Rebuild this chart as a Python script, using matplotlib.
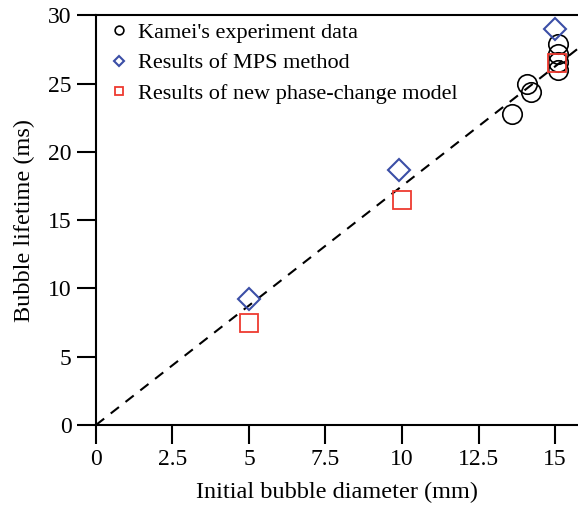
import matplotlib
matplotlib.use("Agg")
import matplotlib.pyplot as plt

plt.rcParams["font.family"] = ["Liberation Serif", "DejaVu Serif"]

# Kamei's experiment data
exp_d = [13.6, 14.1, 14.2, 15.1, 15.1, 15.1, 15.1]
exp_t = [22.8, 25.0, 24.4, 27.9, 27.2, 26.6, 26.0]

# MPS method
mps_d = [5.0, 9.9, 15.0]
mps_t = [9.2, 18.7, 29.0]

# new phase-change model
new_d = [5.0, 10.0, 15.05]
new_t = [7.5, 16.5, 26.5]

fit_d = [0.0, 15.75]
fit_slope = 1.75
fit_t = [d * fit_slope for d in fit_d]

fig = plt.figure(figsize=(5.78, 5.09), dpi=100)
ax = fig.add_axes([0.166, 0.165, 0.834, 0.805])

ax.plot(fit_d, fit_t, "--", color="black", lw=1.5, dashes=(5, 4), zorder=1)
ax.plot(exp_d, exp_t, "o", mfc="none", mec="black", ms=14, mew=1.2,
        label="Kamei's experiment data")
ax.plot(mps_d, mps_t, "D", mfc="none", mec="#3b4ea6", ms=11.5, mew=1.5,
        label="Results of MPS method")
ax.plot(new_d, new_t, "s", mfc="none", mec="#ee3a30", ms=13.5, mew=1.3,
        label="Results of new phase-change model")

ax.set_xlim(0, 15.75)
ax.set_ylim(0, 30)
ax.set_xticks([0, 2.5, 5, 7.5, 10, 12.5, 15])
ax.set_xticklabels(["0", "2.5", "5", "7.5", "10", "12.5", "15"])
ax.set_yticks([0, 5, 10, 15, 20, 25, 30])
ax.tick_params(direction="out", length=13.5, width=1.5, labelsize=17, pad=4)
for s in ["left", "bottom", "top"]:
    ax.spines[s].set_linewidth(1.5)
ax.spines["right"].set_visible(False)

ax.set_xlabel("Initial bubble diameter (mm)", fontsize=17.5, labelpad=8)
ax.set_ylabel("Bubble lifetime (ms)", fontsize=17.5, labelpad=9)

leg = ax.legend(loc="upper left", frameon=False, fontsize=16, markerscale=0.45,
                handletextpad=0.3, handlelength=1.1, borderaxespad=0.1,
                labelspacing=0.45, bbox_to_anchor=(0.0, 1.01))

fig.savefig("out.png", dpi=100)
